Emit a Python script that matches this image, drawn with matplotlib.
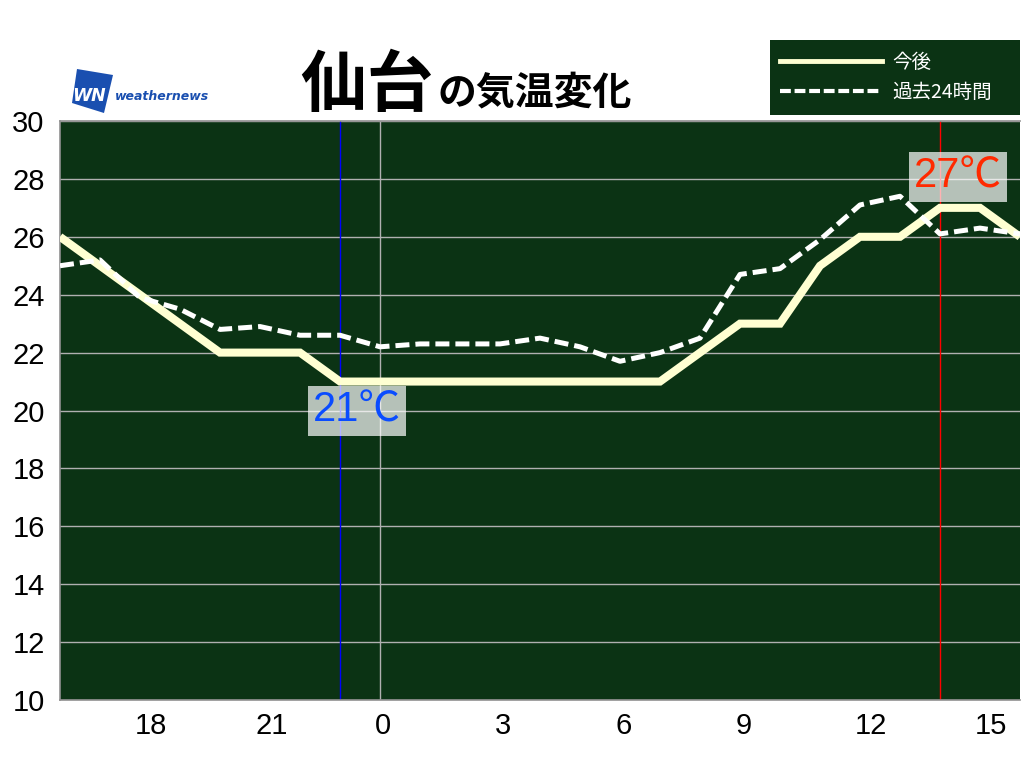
import matplotlib
matplotlib.use("Agg")
import matplotlib.pyplot as plt
from matplotlib.patches import Rectangle, Polygon
from matplotlib.lines import Line2D

plt.rcParams['font.family'] = ['Noto Sans CJK JP', 'DejaVu Sans']

# ---- data ----
hours = list(range(16, 41))  # 16:00 today .. 16:00 tomorrow
forecast = [26, 25, 24, 23, 22, 22, 22, 21, 21, 21, 21, 21, 21, 21, 21, 21,
            22, 23, 23, 25, 26, 26, 27, 27, 26]
past24 = [25.0, 25.2, 23.9, 23.5, 22.8, 22.9, 22.6, 22.6, 22.2, 22.3, 22.3, 22.3,
          22.5, 22.2, 21.7, 22.0, 22.5, 24.7, 24.9, 25.9, 27.1, 27.4, 26.1, 26.3, 26.1]
xtick_pos = [18, 21, 24, 27, 30, 33, 36, 39]
xtick_labels = ['18', '21', '0', '3', '6', '9', '12', '15']
yticks = list(range(10, 31, 2))
min_hour, min_temp = 23, 21
max_hour, max_temp = 38, 27
title_city = '仙台'
title_rest = 'の気温変化'
legend_labels = ['今後', '過去24時間']

num_font = ['Liberation Sans', 'Noto Sans CJK JP', 'DejaVu Sans']

W, H = 1024, 768
fig = plt.figure(figsize=(W / 100, H / 100), dpi=100)
fig.patch.set_facecolor('white')
ax = fig.add_axes([60 / W, 1 - 700 / H, 960 / W, 579 / H])
green = '#0b3314'
ax.set_facecolor(green)
ax.set_xlim(16, 40)
ax.set_ylim(10, 30)

for y in yticks:
    ax.axhline(y, color='#b0b0b0', lw=1.0, zorder=1)
ax.axvline(24, color='#b0b0b0', lw=1.0, zorder=1)
ax.axvline(min_hour, color='#0000ff', lw=1.0, zorder=2)
ax.axvline(max_hour, color='#ff0000', lw=1.0, zorder=2)

ax.plot(hours, forecast, color='#ffffd2', lw=5.8, solid_joinstyle='miter',
        solid_capstyle='butt', zorder=3)
ax.plot(hours, past24, color='white', lw=3.6, linestyle=(0, (2.8, 1.2)),
        dash_capstyle='butt', zorder=4)

ax.set_yticks(yticks)
ax.set_yticklabels([str(v) for v in yticks], fontsize=21, family=num_font)
ax.tick_params(axis='y', length=0, pad=11)
ax.set_xticks([])
for p, lab in zip(xtick_pos, xtick_labels):
    ax.text(p - 0.12, -0.02, lab, transform=ax.get_xaxis_transform(),
            ha='left', va='top', fontsize=21, family=num_font)

for s in ['top', 'bottom', 'left']:
    ax.spines[s].set_color('#909090')
    ax.spines[s].set_linewidth(1.2)
ax.spines['right'].set_visible(False)

box = dict(boxstyle='square,pad=0.12', facecolor='white', alpha=0.7, edgecolor='none')
ax.text(min_hour + 0.43, min_temp - 1.0, f'{min_temp}℃', color='#0a4cff',
        fontsize=30, ha='center', va='center', bbox=box, zorder=6, family=num_font)
ax.text(max_hour + 0.44, max_temp + 1.07, f'{max_temp}℃', color='#ff2a00',
        fontsize=30, ha='center', va='center', bbox=box, zorder=6, family=num_font)

# ---- title ----
fig.text(300 / W, 1 - 106 / H, title_city, fontsize=48, fontweight='bold',
         ha='left', va='baseline')
fig.text(437 / W, 1 - 104 / H, title_rest, fontsize=28, fontweight='bold',
         ha='left', va='baseline')

# ---- logo ----
logo = Polygon([[77 / W, 1 - 69 / H], [113 / W, 1 - 75 / H], [104 / W, 1 - 113 / H],
                [72 / W, 1 - 103 / H]], closed=True, transform=fig.transFigure,
               facecolor='#1a4fb0', edgecolor='none')
fig.patches.append(logo)
fig.text(89 / W, 1 - 96 / H, 'WN', color='white', fontsize=12.5, fontweight='bold',
         fontstyle='italic', ha='center', va='center', family='DejaVu Sans')
fig.text(115 / W, 1 - 96 / H, 'weathernews', color='#1a4fb0', fontsize=9,
         fontweight='bold', fontstyle='italic', ha='left', va='center',
         family='DejaVu Sans')

# ---- legend ----
leg = Rectangle((770 / W, 1 - 115 / H), 250 / W, 75 / H, transform=fig.transFigure,
                facecolor=green, edgecolor='none')
fig.patches.append(leg)
fig.lines.append(Line2D([780 / W, 882 / W], [1 - 61 / H, 1 - 61 / H],
                        transform=fig.transFigure, color='#ffffd2', lw=3.5))
fig.lines.append(Line2D([780 / W, 882 / W], [1 - 91 / H, 1 - 91 / H],
                        transform=fig.transFigure, color='white', lw=3.0,
                        linestyle=(0, (2.6, 0.9)), dash_capstyle='butt'))
fig.text(892 / W, 1 - 62 / H, legend_labels[0], color='white', fontsize=14,
         ha='left', va='center')
fig.text(892 / W, 1 - 92 / H, legend_labels[1], color='white', fontsize=14,
         ha='left', va='center')

fig.savefig('out.png', dpi=100, facecolor='white')
